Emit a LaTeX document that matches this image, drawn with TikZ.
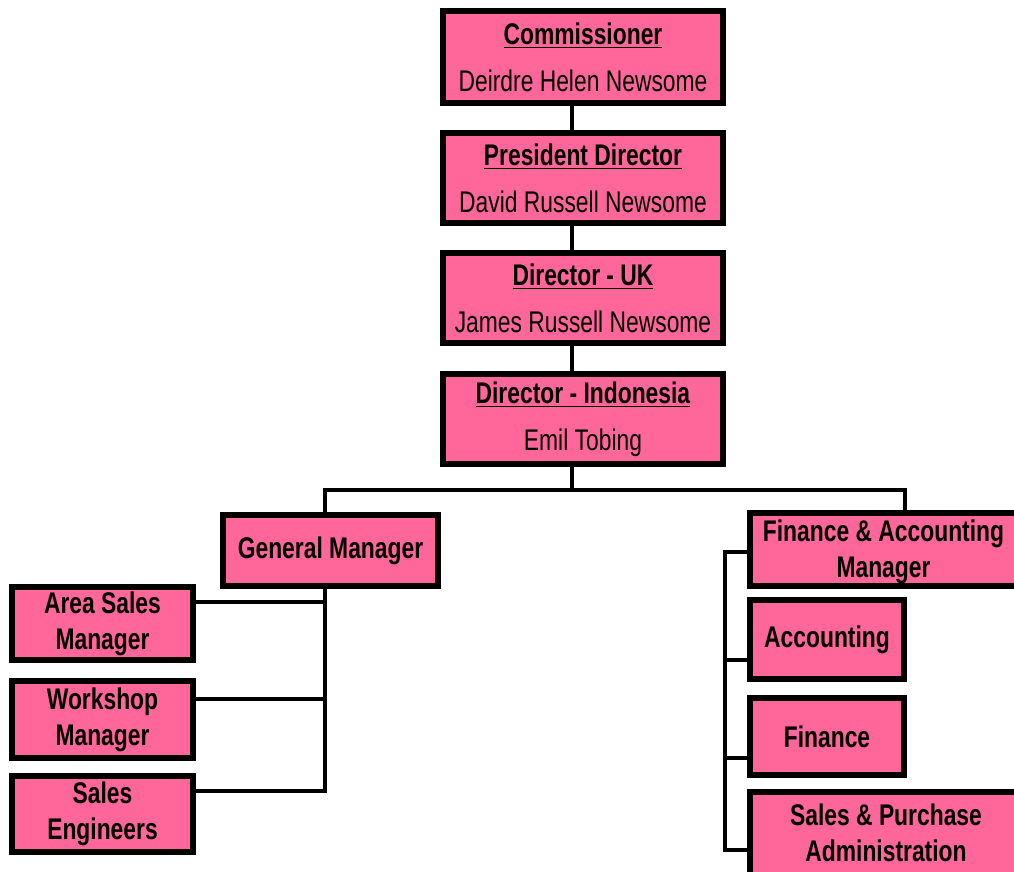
\documentclass[tikz,border=0pt]{standalone}
\usepackage{fontspec}
\setmainfont{Liberation Sans}[FakeStretch=0.765]
\definecolor{boxpink}{RGB}{255,102,153}
\tikzset{
  post/.style={draw, line width=3.4pt, fill=boxpink, align=center, inner sep=0pt,
    font=\fontsize{17}{20.4}\selectfont},
  unit/.style={post, font=\fontsize{17}{20.4}\selectfont\bfseries},
  label text/.style={align=center, inner sep=0pt, font=\fontsize{17}{20.4}\selectfont\bfseries},
  link/.style={line width=2.7pt}
}
\begin{document}
\begin{tikzpicture}[x=0.02cm, y=-0.02cm, line join=miter]
\useasboundingbox (0,0) rectangle (1014,872);
% board
\node[post, minimum width=5.6cm, minimum height=1.84cm] (comm) at (583,57) {\underline{\textbf{Commissioner}}\\[6.2pt]Deirdre Helen Newsome};
\node[post, minimum width=5.6cm, minimum height=1.8cm] (pres) at (583,178) {\underline{\textbf{President Director}}\\[6.2pt]David Russell Newsome};
\node[post, minimum width=5.6cm, minimum height=1.8cm] (diruk) at (583,298) {\underline{\textbf{Director - UK}}\\[6.2pt]James Russell Newsome};
\node[post, minimum width=5.6cm, minimum height=1.8cm] (dirid) at (583,419) {\underline{\textbf{Director - Indonesia}}\\[6.2pt]Emil Tobing};
% managers
\node[unit, minimum width=4.3cm, minimum height=1.42cm] (gm) at (330.5,550.5) {General Manager};
\node[unit, minimum width=5.6cm, minimum height=1.46cm] (fam) at (890,549.5) {};
\node[label text] (famtext) at (883.5,551.5) {Finance \& Accounting\\Manager};
% left column
\node[unit, minimum width=3.62cm, minimum height=1.46cm] (asm) at (102.5,623.5) {Area Sales\\Manager};
\node[unit, minimum width=3.62cm, minimum height=1.54cm] (wsm) at (102.5,719.5) {Workshop\\Manager};
\node[unit, minimum width=3.62cm, minimum height=1.52cm] (seng) at (102.5,814) {Sales\\Engineers};
% right column
\node[unit, minimum width=3.08cm, minimum height=1.58cm] (acc) at (827,639.5) {Accounting};
\node[unit, minimum width=3.08cm, minimum height=1.54cm] (fin) at (827,736.5) {Finance};
\node[unit, minimum width=5.6cm, minimum height=2cm] (spa) at (890,842) {};
\node[label text] (spatext) at (886,832.5) {Sales \& Purchase\\Administration};
\path
  (572,0) coordinate (S)
  (572,490) coordinate (B)
  (325,490) coordinate (G)
  (905,490) coordinate (F)
  (325,602) coordinate (L1)
  (325,699) coordinate (L2)
  (325,791) coordinate (L3)
  (725,552) coordinate (R0)
  (725,660) coordinate (R1)
  (725,758) coordinate (R2)
  (725,850) coordinate (R3);
\foreach \a/\b in {comm/pres, pres/diruk, diruk/dirid} \draw[link] (\a.south -| S) -- (\b.north -| S);
\draw[link] (dirid.south -| S) -- (B);
\draw[link] (gm.north -| G) -- (G) -- (F) -- (fam.north -| F);
\draw[link] (gm.south -| L1) |- (seng.east |- L3);
\foreach \n/\k in {asm/L1, wsm/L2} \draw[link] (\n.east |- \k) -- (\k);
\draw[link] (fam.west |- R0) -| (R3) -- (spa.west |- R3);
\foreach \n/\k in {acc/R1, fin/R2} \draw[link] (\n.west |- \k) -- (\k);
\end{tikzpicture}
\end{document}
